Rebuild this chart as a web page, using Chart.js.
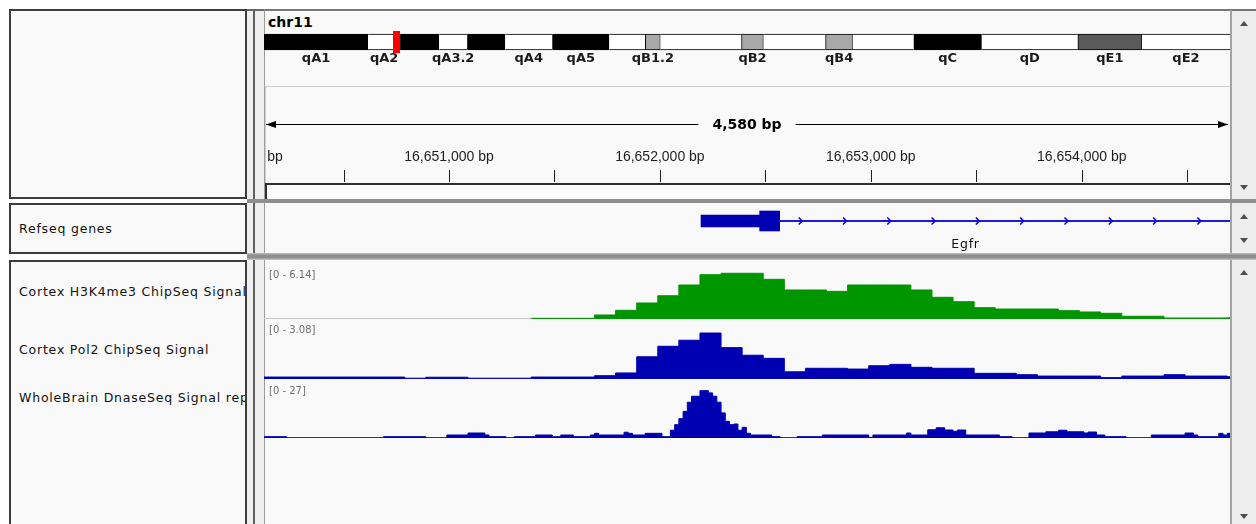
<!DOCTYPE html>
<html lang="en">
<head>
<meta charset="UTF-8" />
<title>IGV - chr11 Egfr</title>
<style>
  * { box-sizing: border-box; }
  body {
    margin: 0;
    width: 1256px;
    height: 524px;
    overflow: hidden;
    position: relative;
    background: #ffffff;
    font-family: 'DejaVu Sans', sans-serif;
  }
  .box { position: absolute; }
  .name-panel {
    position: absolute;
    left: 9px;
    width: 238px;
    border: 2px solid #3c3c3c;
    background: #f9f9f9;
    overflow: hidden;
  }
  .name {
    position: absolute;
    left: 8px;
    font-size: 12.5px;
    line-height: 14px;
    letter-spacing: 0.8px;
    color: #111;
    white-space: nowrap;
  }
  .data-panel {
    position: absolute;
    left: 264px;
    width: 966px;
    background: #f9f9f9;
    border-left: 1px solid #9c9c9c;
  }
  .scroll {
    position: absolute;
    left: 1230px;
    width: 26px;
    background: #ededed;
    border-left: 2px solid #a4a4a4;
  }
  .up, .down {
    position: absolute;
    left: 1240px;
    width: 0;
    height: 0;
    border-left: 4.5px solid transparent;
    border-right: 4.5px solid transparent;
  }
  .up { border-bottom: 5px solid #4d4d4d; }
  .down { border-top: 5px solid #4d4d4d; }
  .sep { position: absolute; left: 247px; width: 1009px; }
  canvas { position: absolute; }
  #chrom {
    position: absolute;
    left: 268px;
    top: 14px;
    font-weight: bold;
    font-size: 14px;
    line-height: 16px;
    color: #000;
  }
</style>
</head>
<body>
  <!-- name panels -->
  <div class="name-panel" style="top:9px;height:190px"></div>
  <div class="name-panel" style="top:203px;height:51px">
    <div class="name" style="top:17px">Refseq genes</div>
  </div>
  <div class="name-panel" style="top:260px;height:300px">
    <div class="name" style="top:23px" id="name1"></div>
    <div class="name" style="top:81px" id="name2"></div>
    <div class="name" style="top:129px" id="name3"></div>
  </div>

  <!-- divider between names and data -->
  <div class="box" style="left:247px;top:9px;width:17px;height:515px;background:#efefef;border-top:2px solid #6a6a6a"></div>
  <div class="box" style="left:253px;top:9px;width:2px;height:515px;background:#5f5f5f"></div>

  <!-- data panels -->
  <div class="data-panel" style="top:9px;height:190px;border-top:2px solid #767676"></div>
  <div class="data-panel" style="top:203px;height:50px"></div>
  <div class="data-panel" style="top:260px;height:264px"></div>

  <div class="scroll" style="top:9px;height:190px;border-top:2px solid #767676"></div>
  <div class="scroll" style="top:203px;height:50px"></div>
  <div class="scroll" style="top:260px;height:264px"></div>
  <div class="up" style="top:21px"></div>
  <div class="down" style="top:185px"></div>
  <div class="up" style="top:214px"></div>
  <div class="down" style="top:238px"></div>
  <div class="up" style="top:270px"></div>
  <div class="down" style="top:514px"></div>

  <div class="sep" style="top:199px;height:4px;background:#8e8e8e"></div>
  <div class="sep" style="top:253px;height:7px;background:linear-gradient(#c4c4c4,#8e8e8e 30%,#8e8e8e 65%,#c8c8c8)"></div>

  <!-- ruler frame -->
  <div class="box" style="left:265px;top:86px;width:965px;height:98px;border-top:1px solid #cdcdcd;border-left:1px solid #cdcdcd"></div>
  <div class="box" style="left:265px;top:183px;width:965px;height:16px;border-top:2px solid #2e2e2e;border-left:2px solid #2e2e2e;background:#fbfbfb"></div>

  <div id="chrom"></div>

  <canvas id="ideogram" width="966" height="40" style="left:264px;top:30px"></canvas>
  <canvas id="ruler" width="966" height="113" style="left:264px;top:86px"></canvas>
  <canvas id="gene" width="966" height="48" style="left:264px;top:205px"></canvas>
  <canvas id="track1" width="966" height="60" style="left:264px;top:259px"></canvas>
  <canvas id="track2" width="966" height="60" style="left:264px;top:319px"></canvas>
  <canvas id="track3" width="966" height="60" style="left:264px;top:378px"></canvas>

<script src="https://cdn.jsdelivr.net/npm/chart.js"></script>
<script>
  // locus shown
  const CHROM = 'chr11';
  const VIEW_START = 16650123;
  const VIEW_END = 16654703;

  // cytobands of chr11 (Mb)
  const CHROM_LENGTH = 121.84;
  const bandNames  = ['qA1', 'qA2', 'qA3.1', 'qA3.2', 'qA3.3', 'qA4', 'qA5', 'qB1.1', 'qB1.2', 'qB1.3', 'qB2', 'qB3', 'qB4', 'qB5', 'qC', 'qD', 'qE1', 'qE2'];
  const bandStarts = [0, 13.13, 17.17, 22.10, 25.63, 30.43, 36.36, 43.56, 48.10, 50.00, 60.23, 63.00, 70.83, 74.24, 81.94, 90.53, 102.65, 110.73];
  const bandEnds   = [13.13, 17.17, 22.10, 25.63, 30.43, 36.36, 43.56, 48.10, 50.00, 60.23, 63.00, 70.83, 74.24, 81.94, 90.53, 102.65, 110.73, 121.84];
  const bandStains = ['gpos100', 'gneg', 'gpos100', 'gneg', 'gpos100', 'gneg', 'gpos100', 'gneg', 'gpos33', 'gneg', 'gpos33', 'gneg', 'gpos33', 'gneg', 'gpos100', 'gneg', 'gpos75', 'gneg'];
  const shownBandLabels = ['qA1', 'qA2', 'qA3.2', 'qA4', 'qA5', 'qB1.2', 'qB2', 'qB4', 'qC', 'qD', 'qE1', 'qE2'];

  // ruler ticks (bp)
  const MINOR_TICK = 500;
  const MAJOR_TICK = 1000;

  // Refseq gene
  const geneName = 'Egfr';
  const geneTxStart = 16652195;
  const geneCdsStart = 16652473;
  const geneExon1End = 16652568;
  const geneTxEnd = 16819000;

  // signal tracks
  const trackNames = ['Cortex H3K4me3 ChipSeq Signal', 'Cortex Pol2 ChipSeq Signal', 'WholeBrain DnaseSeq Signal rep1'];
  const trackMax = [6.14, 3.08, 27];
  const BIN_START = 16650090;
  const BIN_SIZE = 100;
  const h3k4me3Values = [null, null, null, null, null, null, null, null, null, null, null, null, null,
    0.07, 0.07, 0.07, 0.41, 0.89, 1.64, 2.38, 3.48, 4.53, 4.68, 4.68, 4.06, 2.97, 2.97, 2.83,
    3.48, 3.48, 3.48, 2.97, 2.22, 1.77, 1.16, 1.02, 1.02, 1.02, 0.85, 0.72, 0.58, 0.28, 0.28,
    0.10, 0.10, 0.10, 0.13];
  const pol2Values = [0.10, 0.10, 0.10, 0.10, 0.10, 0.10, 0.10, 0.04, 0.09, 0.09, 0.04, 0.04, 0.04,
    0.10, 0.10, 0.10, 0.17, 0.31, 1.14, 1.68, 1.99, 2.36, 1.61, 1.22, 1.06, 0.37, 0.55, 0.55,
    0.51, 0.68, 0.75, 0.60, 0.55, 0.55, 0.29, 0.29, 0.22, 0.15, 0.15, 0.15, 0.07, 0.15, 0.15,
    0.22, 0.15, 0.15, 0.12];
  const dnaseStarts = [16650090, 16650230, 16650690, 16650890, 16650990, 16651090, 16651170, 16651190,
    16651270, 16651310, 16651410, 16651490, 16651530, 16651590, 16651670, 16651690, 16651710,
    16651830, 16651850, 16651870, 16651930, 16652010, 16652050, 16652070, 16652090, 16652110,
    16652130, 16652150, 16652190, 16652230, 16652250, 16652270, 16652290, 16652310, 16652330,
    16652350, 16652370, 16652390, 16652410, 16652430, 16652530, 16652570, 16652650, 16652770,
    16652990, 16653010, 16653170, 16653190, 16653270, 16653310, 16653350, 16653390, 16653410,
    16653450, 16653610, 16653670, 16653750, 16653830, 16653890, 16653930, 16654010, 16654030,
    16654070, 16654110, 16654210, 16654330, 16654490, 16654530, 16654550, 16654650, 16654670,
    16654690];
  const dnaseValues = [0.6, 0.1, 0.6, 0.1, 1.35, 2.25, 1.35, 0.6,
    0.1, 0.6, 1.35, 0.6, 1.35, 0.6, 1.35, 2.1, 1.35,
    2.6, 2.1, 1.35, 2.1, 0.6, 3.5, 6.0, 8.7, 12.0,
    16.1, 18.8, 21.3, 20.3, 18.8, 16.1, 11.3, 7.5, 6.0,
    6.3, 3.5, 4.8, 2.1, 1.35, 0.6, 0.1, 0.6, 1.35,
    0.3, 1.35, 2.25, 1.35, 3.7, 4.6, 3.6, 3.0, 3.6,
    1.35, 0.6, 0.1, 2.25, 2.8, 3.5, 2.8, 2.25, 2.7,
    1.35, 0.6, 0.1, 1.35, 2.25, 1.35, 0.6, 2.1, 1.35,
    2.1];
  const DNASE_END = 16654730;

  const stainColors = { gneg: '#ffffff', gpos33: '#a8a8a8', gpos75: '#5a5a5a', gpos100: '#000000' };

  Chart.defaults.animation = false;
  Chart.defaults.responsive = false;
  Chart.defaults.events = [];
  Chart.defaults.plugins.legend.display = false;
  Chart.defaults.plugins.tooltip.enabled = false;

  document.getElementById('chrom').textContent = CHROM;
  trackNames.forEach((n, i) => { document.getElementById('name' + (i + 1)).textContent = n; });

  // ---- ideogram ----
  const ideogramPlugin = {
    id: 'ideogramLabels',
    afterDatasetsDraw(chart) {
      const { ctx, chartArea, scales: { x } } = chart;
      ctx.save();
      ctx.font = 'bold 13px "DejaVu Sans"';
      ctx.fillStyle = '#1b1b1b';
      ctx.textAlign = 'center';
      ctx.textBaseline = 'middle';
      bandNames.forEach((name, i) => {
        if (!shownBandLabels.includes(name)) return;
        const cx = x.getPixelForValue((bandStarts[i] + bandEnds[i]) / 2);
        ctx.fillText(name, cx, chartArea.bottom + 7);
      });
      // current view marker
      const mid = Math.round(x.getPixelForValue((VIEW_START + VIEW_END) / 2 / 1e6));
      ctx.fillStyle = '#ff0000';
      ctx.fillRect(mid - 3, chartArea.top - 1, 7, chartArea.bottom - chartArea.top + 2);
      ctx.restore();
    }
  };

  new Chart(document.getElementById('ideogram'), {
    type: 'bar',
    data: {
      labels: [CHROM],
      datasets: [{
        data: bandNames.map((n, i) => ({ x: [bandStarts[i], bandEnds[i]], y: CHROM })),
        backgroundColor: bandStains.map(s => stainColors[s]),
        borderColor: '#000000',
        borderSkipped: false,
        borderWidth: ctx => {
          const s = bandStains[ctx.dataIndex];
          return (s === 'gpos33' || s === 'gpos75')
            ? { top: 1, bottom: 1, left: 1, right: 1 }
            : { top: 1, bottom: 1, left: 0, right: 0 };
        },
        barThickness: 16
      }]
    },
    options: {
      indexAxis: 'y',
      layout: { padding: { top: 2, bottom: 18, left: 0, right: 0 } },
      scales: {
        x: { type: 'linear', min: 0, max: CHROM_LENGTH, display: false },
        y: { type: 'category', display: false }
      }
    },
    plugins: [ideogramPlugin]
  });

  // ---- ruler ----
  const rulerPlugin = {
    id: 'ruler',
    afterDraw(chart) {
      const { ctx, chartArea: a, scales: { x } } = chart;
      ctx.save();
      const y = a.top + 38.5;
      const label = (VIEW_END - VIEW_START).toLocaleString('en-US') + ' bp';
      ctx.font = 'bold 14px "DejaVu Sans"';
      const w = ctx.measureText(label).width;
      const cx = (a.left + a.right) / 2;
      ctx.strokeStyle = '#000';
      ctx.fillStyle = '#000';
      ctx.lineWidth = 1;
      ctx.beginPath();
      ctx.moveTo(a.left + 2, y);
      ctx.lineTo(cx - w / 2 - 14, y);
      ctx.moveTo(cx + w / 2 + 14, y);
      ctx.lineTo(a.right - 2, y);
      ctx.stroke();
      ctx.beginPath();
      ctx.moveTo(a.left + 2, y);
      ctx.lineTo(a.left + 12, y - 3.5);
      ctx.lineTo(a.left + 12, y + 3.5);
      ctx.closePath();
      ctx.moveTo(a.right - 2, y);
      ctx.lineTo(a.right - 12, y - 3.5);
      ctx.lineTo(a.right - 12, y + 3.5);
      ctx.closePath();
      ctx.fill();
      ctx.textAlign = 'center';
      ctx.textBaseline = 'middle';
      ctx.fillText(label, cx, y + 1);

      // tick marks
      ctx.strokeStyle = '#1e1e1e';
      ctx.beginPath();
      for (let v = Math.ceil(x.min / MINOR_TICK) * MINOR_TICK; v <= x.max; v += MINOR_TICK) {
        const px = Math.round(x.getPixelForValue(v)) + 0.5;
        ctx.moveTo(px, a.top + 84);
        ctx.lineTo(px, a.top + 96);
      }
      ctx.stroke();

      // tick labels, clipped to the panel
      ctx.beginPath();
      ctx.rect(a.left, a.top, a.right - a.left, a.bottom - a.top);
      ctx.clip();
      ctx.font = '14px "Liberation Sans"';
      ctx.fillStyle = '#1e1e1e';
      for (let v = Math.floor(x.min / MAJOR_TICK) * MAJOR_TICK; v <= x.max + MAJOR_TICK; v += MAJOR_TICK) {
        ctx.fillText(v.toLocaleString('en-US') + ' bp', x.getPixelForValue(v), a.top + 71);
      }
      ctx.restore();
    }
  };

  new Chart(document.getElementById('ruler'), {
    type: 'line',
    data: { datasets: [{ data: [] }] },
    options: {
      layout: { padding: 0 },
      scales: {
        x: { type: 'linear', min: VIEW_START, max: VIEW_END, display: false },
        y: { display: false }
      }
    },
    plugins: [rulerPlugin]
  });

  // ---- gene track ----
  const genePlugin = {
    id: 'geneDecor',
    afterDatasetsDraw(chart) {
      const { ctx, chartArea: a, scales: { x, y } } = chart;
      const yc = y.getPixelForValue(0);
      const left = Math.max(x.getPixelForValue(geneTxStart), a.left);
      const right = Math.min(x.getPixelForValue(geneTxEnd), a.right);
      ctx.save();
      ctx.strokeStyle = '#0000d8';
      ctx.lineWidth = 1.5;
      ctx.beginPath();
      for (let px = x.getPixelForValue(geneExon1End) + 21; px < right - 4; px += 44.3) {
        ctx.moveTo(px - 2, yc - 3.5);
        ctx.lineTo(px + 1.5, yc);
        ctx.lineTo(px - 2, yc + 3.5);
      }
      ctx.stroke();
      ctx.font = '12.5px "DejaVu Sans"';
      ctx.letterSpacing = '0.8px';
      ctx.fillStyle = '#111';
      ctx.textAlign = 'center';
      ctx.textBaseline = 'middle';
      ctx.fillText(geneName, (left + right) / 2, yc + 24);
      ctx.restore();
    }
  };

  new Chart(document.getElementById('gene'), {
    type: 'bar',
    data: {
      labels: [geneName],
      datasets: [
        { data: [{ x: [geneExon1End, geneTxEnd], y: geneName }], backgroundColor: '#1c1cd6', barThickness: 1.5, grouped: false },
        { data: [{ x: [geneTxStart, geneCdsStart], y: geneName }], backgroundColor: '#0000b2', barThickness: 12, grouped: false },
        { data: [{ x: [geneCdsStart, geneExon1End], y: geneName }], backgroundColor: '#0000b2', barThickness: 20, grouped: false }
      ]
    },
    options: {
      indexAxis: 'y',
      layout: { padding: { top: 0, bottom: 16, left: 0, right: 0 } },
      scales: {
        x: { type: 'linear', min: VIEW_START, max: VIEW_END, display: false },
        y: { type: 'category', display: false }
      }
    },
    plugins: [genePlugin]
  });

  // ---- signal tracks ----
  const trackPlugin = {
    id: 'trackDecor',
    beforeDatasetsDraw(chart) {
      const { ctx, chartArea: a, scales: { y } } = chart;
      const y0 = Math.round(y.getPixelForValue(0)) - 0.5;
      ctx.save();
      ctx.strokeStyle = '#c8c8c8';
      ctx.lineWidth = 1;
      ctx.beginPath();
      ctx.moveTo(a.left, y0);
      ctx.lineTo(a.right, y0);
      ctx.stroke();
      ctx.restore();
    },
    afterDatasetsDraw(chart, args, opts) {
      const { ctx, chartArea: a } = chart;
      ctx.save();
      ctx.font = '10px "DejaVu Sans"';
      ctx.fillStyle = '#707070';
      ctx.textBaseline = 'top';
      ctx.fillText(opts.label, a.left + 5, a.top + opts.labelTop);
      ctx.restore();
    }
  };

  function binPoints(values) {
    const pts = values.map((v, i) => ({ x: BIN_START + i * BIN_SIZE, y: v }));
    pts.push({ x: BIN_START + values.length * BIN_SIZE, y: values[values.length - 1] });
    return pts;
  }

  function makeTrack(id, points, color, max, labelTop) {
    return new Chart(document.getElementById(id), {
      type: 'line',
      data: {
        datasets: [{
          data: points,
          stepped: 'before',
          fill: 'origin',
          backgroundColor: color,
          borderColor: color,
          borderWidth: 1,
          pointRadius: 0,
          tension: 0,
          spanGaps: false
        }]
      },
      options: {
        layout: { padding: 0 },
        scales: {
          x: { type: 'linear', min: VIEW_START, max: VIEW_END, display: false },
          y: { type: 'linear', min: 0, max: max, display: false }
        },
        plugins: { trackDecor: { label: '[0 - ' + max + ']', labelTop: labelTop } }
      },
      plugins: [trackPlugin]
    });
  }

  const dnasePoints = dnaseStarts.map((s, i) => ({ x: s, y: dnaseValues[i] }));
  dnasePoints.push({ x: DNASE_END, y: dnaseValues[dnaseValues.length - 1] });

  makeTrack('track1', binPoints(h3k4me3Values), '#009600', trackMax[0], 11);
  makeTrack('track2', binPoints(pol2Values), '#0000b2', trackMax[1], 6);
  makeTrack('track3', dnasePoints, '#0000b2', trackMax[2], 8);
</script>
</body>
</html>
